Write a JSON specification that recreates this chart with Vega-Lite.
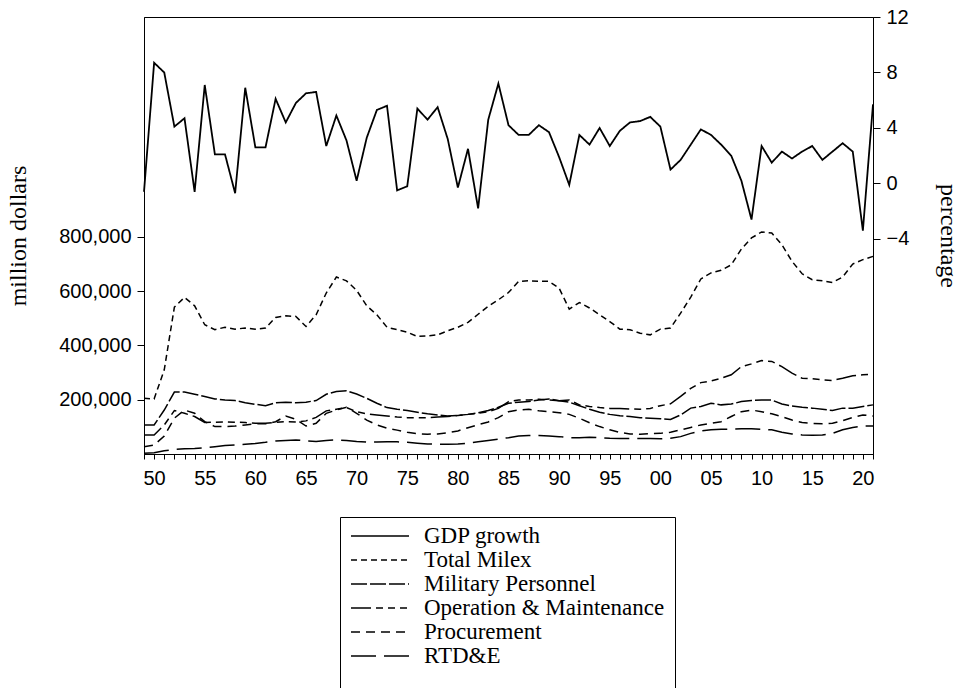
{
"$schema": "https://vega.github.io/schema/vega-lite/v6.json",
"width": 729, "height": 437,
"autosize": {"type": "none"},
"padding": {"left": 144, "top": 17, "right": 88, "bottom": 234},
"background": "white",
"config": {
  "view": {"stroke": "black", "strokeWidth": 1},
  "axis": {"domainColor": "black", "tickColor": "black", "labelColor": "black", "titleColor": "black", "labelFont": "Liberation Sans", "labelFontSize": 20, "titleFont": "Liberation Serif", "titleFontSize": 24, "titleFontWeight": "normal", "grid": false, "domainWidth": 1, "tickWidth": 1},
  "legend": {"labelFont": "Liberation Serif", "labelFontSize": 23, "labelColor": "black", "symbolType": "stroke", "symbolSize": 3364, "symbolStrokeWidth": 1.5, "symbolStrokeColor": "black", "labelOffset": 14, "padding": 10, "strokeColor": "black", "fillColor": "white", "rowPadding": 0, "clipHeight": 18.2, "labelLimit": 400}
},
"data": {"values": [
{"year":1949,"series":"GDP growth","value":-0.6},{"year":1950,"series":"GDP growth","value":8.7},{"year":1951,"series":"GDP growth","value":8.0},{"year":1952,"series":"GDP growth","value":4.1},{"year":1953,"series":"GDP growth","value":4.7},{"year":1954,"series":"GDP growth","value":-0.6},{"year":1955,"series":"GDP growth","value":7.1},{"year":1956,"series":"GDP growth","value":2.1},{"year":1957,"series":"GDP growth","value":2.1},{"year":1958,"series":"GDP growth","value":-0.7},
{"year":1959,"series":"GDP growth","value":6.9},{"year":1960,"series":"GDP growth","value":2.6},{"year":1961,"series":"GDP growth","value":2.6},{"year":1962,"series":"GDP growth","value":6.1},{"year":1963,"series":"GDP growth","value":4.4},{"year":1964,"series":"GDP growth","value":5.8},{"year":1965,"series":"GDP growth","value":6.5},{"year":1966,"series":"GDP growth","value":6.6},{"year":1967,"series":"GDP growth","value":2.7},{"year":1968,"series":"GDP growth","value":4.9},
{"year":1969,"series":"GDP growth","value":3.1},{"year":1970,"series":"GDP growth","value":0.2},{"year":1971,"series":"GDP growth","value":3.3},{"year":1972,"series":"GDP growth","value":5.3},{"year":1973,"series":"GDP growth","value":5.6},{"year":1974,"series":"GDP growth","value":-0.5},{"year":1975,"series":"GDP growth","value":-0.2},{"year":1976,"series":"GDP growth","value":5.4},{"year":1977,"series":"GDP growth","value":4.6},{"year":1978,"series":"GDP growth","value":5.5},
{"year":1979,"series":"GDP growth","value":3.2},{"year":1980,"series":"GDP growth","value":-0.3},{"year":1981,"series":"GDP growth","value":2.5},{"year":1982,"series":"GDP growth","value":-1.8},{"year":1983,"series":"GDP growth","value":4.6},{"year":1984,"series":"GDP growth","value":7.2},{"year":1985,"series":"GDP growth","value":4.2},{"year":1986,"series":"GDP growth","value":3.5},{"year":1987,"series":"GDP growth","value":3.5},{"year":1988,"series":"GDP growth","value":4.2},
{"year":1989,"series":"GDP growth","value":3.7},{"year":1990,"series":"GDP growth","value":1.9},{"year":1991,"series":"GDP growth","value":-0.1},{"year":1992,"series":"GDP growth","value":3.5},{"year":1993,"series":"GDP growth","value":2.8},{"year":1994,"series":"GDP growth","value":4.0},{"year":1995,"series":"GDP growth","value":2.7},{"year":1996,"series":"GDP growth","value":3.8},{"year":1997,"series":"GDP growth","value":4.4},{"year":1998,"series":"GDP growth","value":4.5},
{"year":1999,"series":"GDP growth","value":4.8},{"year":2000,"series":"GDP growth","value":4.1},{"year":2001,"series":"GDP growth","value":1.0},{"year":2002,"series":"GDP growth","value":1.7},{"year":2003,"series":"GDP growth","value":2.8},{"year":2004,"series":"GDP growth","value":3.9},{"year":2005,"series":"GDP growth","value":3.5},{"year":2006,"series":"GDP growth","value":2.8},{"year":2007,"series":"GDP growth","value":2.0},{"year":2008,"series":"GDP growth","value":0.2},
{"year":2009,"series":"GDP growth","value":-2.6},{"year":2010,"series":"GDP growth","value":2.7},{"year":2011,"series":"GDP growth","value":1.5},{"year":2012,"series":"GDP growth","value":2.3},{"year":2013,"series":"GDP growth","value":1.8},{"year":2014,"series":"GDP growth","value":2.3},{"year":2015,"series":"GDP growth","value":2.7},{"year":2016,"series":"GDP growth","value":1.7},{"year":2017,"series":"GDP growth","value":2.3},{"year":2018,"series":"GDP growth","value":2.9},
{"year":2019,"series":"GDP growth","value":2.3},{"year":2020,"series":"GDP growth","value":-3.4},{"year":2021,"series":"GDP growth","value":5.7},

{"year":1949,"series":"Total Milex","value":205000},{"year":1950,"series":"Total Milex","value":203000},{"year":1951,"series":"Total Milex","value":310000},{"year":1952,"series":"Total Milex","value":541000},{"year":1953,"series":"Total Milex","value":577000},{"year":1954,"series":"Total Milex","value":546000},{"year":1955,"series":"Total Milex","value":476000},{"year":1956,"series":"Total Milex","value":458000},{"year":1957,"series":"Total Milex","value":467000},{"year":1958,"series":"Total Milex","value":460000},
{"year":1959,"series":"Total Milex","value":464000},{"year":1960,"series":"Total Milex","value":460000},{"year":1961,"series":"Total Milex","value":464000},{"year":1962,"series":"Total Milex","value":503000},{"year":1963,"series":"Total Milex","value":509000},{"year":1964,"series":"Total Milex","value":507000},{"year":1965,"series":"Total Milex","value":470000},{"year":1966,"series":"Total Milex","value":513000},{"year":1967,"series":"Total Milex","value":593000},{"year":1968,"series":"Total Milex","value":652000},
{"year":1969,"series":"Total Milex","value":638000},{"year":1970,"series":"Total Milex","value":603000},{"year":1971,"series":"Total Milex","value":546000},{"year":1972,"series":"Total Milex","value":513000},{"year":1973,"series":"Total Milex","value":467000},{"year":1974,"series":"Total Milex","value":458000},{"year":1975,"series":"Total Milex","value":449000},{"year":1976,"series":"Total Milex","value":433000},{"year":1977,"series":"Total Milex","value":435000},{"year":1978,"series":"Total Milex","value":439000},
{"year":1979,"series":"Total Milex","value":454000},{"year":1980,"series":"Total Milex","value":467000},{"year":1981,"series":"Total Milex","value":485000},{"year":1982,"series":"Total Milex","value":515000},{"year":1983,"series":"Total Milex","value":544000},{"year":1984,"series":"Total Milex","value":568000},{"year":1985,"series":"Total Milex","value":595000},{"year":1986,"series":"Total Milex","value":636000},{"year":1987,"series":"Total Milex","value":638000},{"year":1988,"series":"Total Milex","value":636000},
{"year":1989,"series":"Total Milex","value":636000},{"year":1990,"series":"Total Milex","value":611000},{"year":1991,"series":"Total Milex","value":534000},{"year":1992,"series":"Total Milex","value":558000},{"year":1993,"series":"Total Milex","value":538000},{"year":1994,"series":"Total Milex","value":513000},{"year":1995,"series":"Total Milex","value":488000},{"year":1996,"series":"Total Milex","value":460000},{"year":1997,"series":"Total Milex","value":458000},{"year":1998,"series":"Total Milex","value":445000},
{"year":1999,"series":"Total Milex","value":439000},{"year":2000,"series":"Total Milex","value":460000},{"year":2001,"series":"Total Milex","value":464000},{"year":2002,"series":"Total Milex","value":519000},{"year":2003,"series":"Total Milex","value":578000},{"year":2004,"series":"Total Milex","value":645000},{"year":2005,"series":"Total Milex","value":667000},{"year":2006,"series":"Total Milex","value":677000},{"year":2007,"series":"Total Milex","value":697000},{"year":2008,"series":"Total Milex","value":755000},
{"year":2009,"series":"Total Milex","value":796000},{"year":2010,"series":"Total Milex","value":818000},{"year":2011,"series":"Total Milex","value":814000},{"year":2012,"series":"Total Milex","value":771000},{"year":2013,"series":"Total Milex","value":710000},{"year":2014,"series":"Total Milex","value":664000},{"year":2015,"series":"Total Milex","value":642000},{"year":2016,"series":"Total Milex","value":638000},{"year":2017,"series":"Total Milex","value":632000},{"year":2018,"series":"Total Milex","value":652000},
{"year":2019,"series":"Total Milex","value":700000},{"year":2020,"series":"Total Milex","value":716000},{"year":2021,"series":"Total Milex","value":728000},

{"year":1949,"series":"Military Personnel","value":107000},{"year":1950,"series":"Military Personnel","value":107000},{"year":1951,"series":"Military Personnel","value":162000},{"year":1952,"series":"Military Personnel","value":228000},{"year":1953,"series":"Military Personnel","value":228000},{"year":1954,"series":"Military Personnel","value":220000},{"year":1955,"series":"Military Personnel","value":212000},{"year":1956,"series":"Military Personnel","value":203000},{"year":1957,"series":"Military Personnel","value":199000},{"year":1958,"series":"Military Personnel","value":197000},
{"year":1959,"series":"Military Personnel","value":189000},{"year":1960,"series":"Military Personnel","value":183000},{"year":1961,"series":"Military Personnel","value":178000},{"year":1962,"series":"Military Personnel","value":189000},{"year":1963,"series":"Military Personnel","value":191000},{"year":1964,"series":"Military Personnel","value":189000},{"year":1965,"series":"Military Personnel","value":191000},{"year":1966,"series":"Military Personnel","value":197000},{"year":1967,"series":"Military Personnel","value":220000},{"year":1968,"series":"Military Personnel","value":230000},
{"year":1969,"series":"Military Personnel","value":233000},{"year":1970,"series":"Military Personnel","value":221000},{"year":1971,"series":"Military Personnel","value":205000},{"year":1972,"series":"Military Personnel","value":187000},{"year":1973,"series":"Military Personnel","value":171000},{"year":1974,"series":"Military Personnel","value":165000},{"year":1975,"series":"Military Personnel","value":160000},{"year":1976,"series":"Military Personnel","value":154000},{"year":1977,"series":"Military Personnel","value":148000},{"year":1978,"series":"Military Personnel","value":144000},
{"year":1979,"series":"Military Personnel","value":140000},{"year":1980,"series":"Military Personnel","value":142000},{"year":1981,"series":"Military Personnel","value":146000},{"year":1982,"series":"Military Personnel","value":152000},{"year":1983,"series":"Military Personnel","value":160000},{"year":1984,"series":"Military Personnel","value":172000},{"year":1985,"series":"Military Personnel","value":187000},{"year":1986,"series":"Military Personnel","value":191000},{"year":1987,"series":"Military Personnel","value":193000},{"year":1988,"series":"Military Personnel","value":199000},
{"year":1989,"series":"Military Personnel","value":203000},{"year":1990,"series":"Military Personnel","value":196000},{"year":1991,"series":"Military Personnel","value":191000},{"year":1992,"series":"Military Personnel","value":178000},{"year":1993,"series":"Military Personnel","value":165000},{"year":1994,"series":"Military Personnel","value":154000},{"year":1995,"series":"Military Personnel","value":146000},{"year":1996,"series":"Military Personnel","value":141000},{"year":1997,"series":"Military Personnel","value":138000},{"year":1998,"series":"Military Personnel","value":134000},
{"year":1999,"series":"Military Personnel","value":132000},{"year":2000,"series":"Military Personnel","value":130000},{"year":2001,"series":"Military Personnel","value":127000},{"year":2002,"series":"Military Personnel","value":144000},{"year":2003,"series":"Military Personnel","value":169000},{"year":2004,"series":"Military Personnel","value":175000},{"year":2005,"series":"Military Personnel","value":187000},{"year":2006,"series":"Military Personnel","value":181000},{"year":2007,"series":"Military Personnel","value":184000},{"year":2008,"series":"Military Personnel","value":193000},
{"year":2009,"series":"Military Personnel","value":197000},{"year":2010,"series":"Military Personnel","value":199000},{"year":2011,"series":"Military Personnel","value":199000},{"year":2012,"series":"Military Personnel","value":184000},{"year":2013,"series":"Military Personnel","value":177000},{"year":2014,"series":"Military Personnel","value":172000},{"year":2015,"series":"Military Personnel","value":169000},{"year":2016,"series":"Military Personnel","value":165000},{"year":2017,"series":"Military Personnel","value":160000},{"year":2018,"series":"Military Personnel","value":169000},
{"year":2019,"series":"Military Personnel","value":169000},{"year":2020,"series":"Military Personnel","value":175000},{"year":2021,"series":"Military Personnel","value":181000},

{"year":1949,"series":"Operation & Maintenance","value":70000},{"year":1950,"series":"Operation & Maintenance","value":70000},{"year":1951,"series":"Operation & Maintenance","value":107000},{"year":1952,"series":"Operation & Maintenance","value":160000},{"year":1953,"series":"Operation & Maintenance","value":150000},{"year":1954,"series":"Operation & Maintenance","value":138000},{"year":1955,"series":"Operation & Maintenance","value":116000},{"year":1956,"series":"Operation & Maintenance","value":117000},{"year":1957,"series":"Operation & Maintenance","value":118000},{"year":1958,"series":"Operation & Maintenance","value":117000},
{"year":1959,"series":"Operation & Maintenance","value":116000},{"year":1960,"series":"Operation & Maintenance","value":113000},{"year":1961,"series":"Operation & Maintenance","value":113000},{"year":1962,"series":"Operation & Maintenance","value":117000},{"year":1963,"series":"Operation & Maintenance","value":119000},{"year":1964,"series":"Operation & Maintenance","value":118000},{"year":1965,"series":"Operation & Maintenance","value":122000},{"year":1966,"series":"Operation & Maintenance","value":135000},{"year":1967,"series":"Operation & Maintenance","value":159000},{"year":1968,"series":"Operation & Maintenance","value":165000},
{"year":1969,"series":"Operation & Maintenance","value":171000},{"year":1970,"series":"Operation & Maintenance","value":156000},{"year":1971,"series":"Operation & Maintenance","value":148000},{"year":1972,"series":"Operation & Maintenance","value":144000},{"year":1973,"series":"Operation & Maintenance","value":140000},{"year":1974,"series":"Operation & Maintenance","value":136000},{"year":1975,"series":"Operation & Maintenance","value":134000},{"year":1976,"series":"Operation & Maintenance","value":134000},{"year":1977,"series":"Operation & Maintenance","value":134000},{"year":1978,"series":"Operation & Maintenance","value":136000},
{"year":1979,"series":"Operation & Maintenance","value":138000},{"year":1980,"series":"Operation & Maintenance","value":142000},{"year":1981,"series":"Operation & Maintenance","value":146000},{"year":1982,"series":"Operation & Maintenance","value":150000},{"year":1983,"series":"Operation & Maintenance","value":156000},{"year":1984,"series":"Operation & Maintenance","value":168000},{"year":1985,"series":"Operation & Maintenance","value":193000},{"year":1986,"series":"Operation & Maintenance","value":199000},{"year":1987,"series":"Operation & Maintenance","value":199000},{"year":1988,"series":"Operation & Maintenance","value":202000},
{"year":1989,"series":"Operation & Maintenance","value":199000},{"year":1990,"series":"Operation & Maintenance","value":196000},{"year":1991,"series":"Operation & Maintenance","value":199000},{"year":1992,"series":"Operation & Maintenance","value":181000},{"year":1993,"series":"Operation & Maintenance","value":175000},{"year":1994,"series":"Operation & Maintenance","value":171000},{"year":1995,"series":"Operation & Maintenance","value":168000},{"year":1996,"series":"Operation & Maintenance","value":168000},{"year":1997,"series":"Operation & Maintenance","value":166000},{"year":1998,"series":"Operation & Maintenance","value":165000},
{"year":1999,"series":"Operation & Maintenance","value":168000},{"year":2000,"series":"Operation & Maintenance","value":178000},{"year":2001,"series":"Operation & Maintenance","value":185000},{"year":2002,"series":"Operation & Maintenance","value":212000},{"year":2003,"series":"Operation & Maintenance","value":242000},{"year":2004,"series":"Operation & Maintenance","value":263000},{"year":2005,"series":"Operation & Maintenance","value":269000},{"year":2006,"series":"Operation & Maintenance","value":279000},{"year":2007,"series":"Operation & Maintenance","value":292000},{"year":2008,"series":"Operation & Maintenance","value":322000},
{"year":2009,"series":"Operation & Maintenance","value":332000},{"year":2010,"series":"Operation & Maintenance","value":344000},{"year":2011,"series":"Operation & Maintenance","value":341000},{"year":2012,"series":"Operation & Maintenance","value":322000},{"year":2013,"series":"Operation & Maintenance","value":298000},{"year":2014,"series":"Operation & Maintenance","value":279000},{"year":2015,"series":"Operation & Maintenance","value":277000},{"year":2016,"series":"Operation & Maintenance","value":273000},{"year":2017,"series":"Operation & Maintenance","value":271000},{"year":2018,"series":"Operation & Maintenance","value":279000},
{"year":2019,"series":"Operation & Maintenance","value":288000},{"year":2020,"series":"Operation & Maintenance","value":292000},{"year":2021,"series":"Operation & Maintenance","value":294000},

{"year":1949,"series":"Procurement","value":27000},{"year":1950,"series":"Procurement","value":33000},{"year":1951,"series":"Procurement","value":66000},{"year":1952,"series":"Procurement","value":132000},{"year":1953,"series":"Procurement","value":162000},{"year":1954,"series":"Procurement","value":150000},{"year":1955,"series":"Procurement","value":119000},{"year":1956,"series":"Procurement","value":101000},{"year":1957,"series":"Procurement","value":101000},{"year":1958,"series":"Procurement","value":103000},
{"year":1959,"series":"Procurement","value":107000},{"year":1960,"series":"Procurement","value":111000},{"year":1961,"series":"Procurement","value":111000},{"year":1962,"series":"Procurement","value":119000},{"year":1963,"series":"Procurement","value":140000},{"year":1964,"series":"Procurement","value":128000},{"year":1965,"series":"Procurement","value":103000},{"year":1966,"series":"Procurement","value":113000},{"year":1967,"series":"Procurement","value":150000},{"year":1968,"series":"Procurement","value":162000},
{"year":1969,"series":"Procurement","value":172000},{"year":1970,"series":"Procurement","value":150000},{"year":1971,"series":"Procurement","value":125000},{"year":1972,"series":"Procurement","value":107000},{"year":1973,"series":"Procurement","value":95000},{"year":1974,"series":"Procurement","value":88000},{"year":1975,"series":"Procurement","value":80000},{"year":1976,"series":"Procurement","value":75000},{"year":1977,"series":"Procurement","value":73000},{"year":1978,"series":"Procurement","value":74000},
{"year":1979,"series":"Procurement","value":78000},{"year":1980,"series":"Procurement","value":85000},{"year":1981,"series":"Procurement","value":97000},{"year":1982,"series":"Procurement","value":108000},{"year":1983,"series":"Procurement","value":118000},{"year":1984,"series":"Procurement","value":134000},{"year":1985,"series":"Procurement","value":156000},{"year":1986,"series":"Procurement","value":162000},{"year":1987,"series":"Procurement","value":165000},{"year":1988,"series":"Procurement","value":159000},
{"year":1989,"series":"Procurement","value":156000},{"year":1990,"series":"Procurement","value":152000},{"year":1991,"series":"Procurement","value":146000},{"year":1992,"series":"Procurement","value":132000},{"year":1993,"series":"Procurement","value":115000},{"year":1994,"series":"Procurement","value":101000},{"year":1995,"series":"Procurement","value":89000},{"year":1996,"series":"Procurement","value":79000},{"year":1997,"series":"Procurement","value":74000},{"year":1998,"series":"Procurement","value":73000},
{"year":1999,"series":"Procurement","value":75000},{"year":2000,"series":"Procurement","value":76000},{"year":2001,"series":"Procurement","value":80000},{"year":2002,"series":"Procurement","value":89000},{"year":2003,"series":"Procurement","value":98000},{"year":2004,"series":"Procurement","value":107000},{"year":2005,"series":"Procurement","value":113000},{"year":2006,"series":"Procurement","value":119000},{"year":2007,"series":"Procurement","value":138000},{"year":2008,"series":"Procurement","value":156000},
{"year":2009,"series":"Procurement","value":162000},{"year":2010,"series":"Procurement","value":156000},{"year":2011,"series":"Procurement","value":148000},{"year":2012,"series":"Procurement","value":138000},{"year":2013,"series":"Procurement","value":125000},{"year":2014,"series":"Procurement","value":116000},{"year":2015,"series":"Procurement","value":113000},{"year":2016,"series":"Procurement","value":111000},{"year":2017,"series":"Procurement","value":113000},{"year":2018,"series":"Procurement","value":123000},
{"year":2019,"series":"Procurement","value":135000},{"year":2020,"series":"Procurement","value":144000},{"year":2021,"series":"Procurement","value":140000},

{"year":1949,"series":"RTD&E","value":3000},{"year":1950,"series":"RTD&E","value":5000},{"year":1951,"series":"RTD&E","value":12000},{"year":1952,"series":"RTD&E","value":17000},{"year":1953,"series":"RTD&E","value":19000},{"year":1954,"series":"RTD&E","value":20000},{"year":1955,"series":"RTD&E","value":23000},{"year":1956,"series":"RTD&E","value":27000},{"year":1957,"series":"RTD&E","value":31000},{"year":1958,"series":"RTD&E","value":33000},
{"year":1959,"series":"RTD&E","value":36000},{"year":1960,"series":"RTD&E","value":39000},{"year":1961,"series":"RTD&E","value":43000},{"year":1962,"series":"RTD&E","value":48000},{"year":1963,"series":"RTD&E","value":50000},{"year":1964,"series":"RTD&E","value":52000},{"year":1965,"series":"RTD&E","value":48000},{"year":1966,"series":"RTD&E","value":46000},{"year":1967,"series":"RTD&E","value":50000},{"year":1968,"series":"RTD&E","value":52000},
{"year":1969,"series":"RTD&E","value":50000},{"year":1970,"series":"RTD&E","value":46000},{"year":1971,"series":"RTD&E","value":44000},{"year":1972,"series":"RTD&E","value":44000},{"year":1973,"series":"RTD&E","value":45000},{"year":1974,"series":"RTD&E","value":45000},{"year":1975,"series":"RTD&E","value":43000},{"year":1976,"series":"RTD&E","value":40000},{"year":1977,"series":"RTD&E","value":37000},{"year":1978,"series":"RTD&E","value":36000},
{"year":1979,"series":"RTD&E","value":36000},{"year":1980,"series":"RTD&E","value":37000},{"year":1981,"series":"RTD&E","value":40000},{"year":1982,"series":"RTD&E","value":45000},{"year":1983,"series":"RTD&E","value":50000},{"year":1984,"series":"RTD&E","value":55000},{"year":1985,"series":"RTD&E","value":60000},{"year":1986,"series":"RTD&E","value":66000},{"year":1987,"series":"RTD&E","value":68000},{"year":1988,"series":"RTD&E","value":68000},
{"year":1989,"series":"RTD&E","value":66000},{"year":1990,"series":"RTD&E","value":64000},{"year":1991,"series":"RTD&E","value":60000},{"year":1992,"series":"RTD&E","value":60000},{"year":1993,"series":"RTD&E","value":62000},{"year":1994,"series":"RTD&E","value":60000},{"year":1995,"series":"RTD&E","value":58000},{"year":1996,"series":"RTD&E","value":57000},{"year":1997,"series":"RTD&E","value":57000},{"year":1998,"series":"RTD&E","value":57000},
{"year":1999,"series":"RTD&E","value":57000},{"year":2000,"series":"RTD&E","value":56000},{"year":2001,"series":"RTD&E","value":58000},{"year":2002,"series":"RTD&E","value":64000},{"year":2003,"series":"RTD&E","value":76000},{"year":2004,"series":"RTD&E","value":85000},{"year":2005,"series":"RTD&E","value":89000},{"year":2006,"series":"RTD&E","value":91000},{"year":2007,"series":"RTD&E","value":92000},{"year":2008,"series":"RTD&E","value":93000},
{"year":2009,"series":"RTD&E","value":93000},{"year":2010,"series":"RTD&E","value":91000},{"year":2011,"series":"RTD&E","value":89000},{"year":2012,"series":"RTD&E","value":80000},{"year":2013,"series":"RTD&E","value":74000},{"year":2014,"series":"RTD&E","value":70000},{"year":2015,"series":"RTD&E","value":69000},{"year":2016,"series":"RTD&E","value":70000},{"year":2017,"series":"RTD&E","value":76000},{"year":2018,"series":"RTD&E","value":89000},
{"year":2019,"series":"RTD&E","value":98000},{"year":2020,"series":"RTD&E","value":103000},{"year":2021,"series":"RTD&E","value":103000}
]},
"encoding": {
  "x": {"field": "year", "type": "quantitative",
    "scale": {"domain": [1949, 2021], "nice": false, "zero": false},
    "axis": {"title": null, "values": [1949,1950,1951,1952,1953,1954,1955,1956,1957,1958,1959,1960,1961,1962,1963,1964,1965,1966,1967,1968,1969,1970,1971,1972,1973,1974,1975,1976,1977,1978,1979,1980,1981,1982,1983,1984,1985,1986,1987,1988,1989,1990,1991,1992,1993,1994,1995,1996,1997,1998,1999,2000,2001,2002,2003,2004,2005,2006,2007,2008,2009,2010,2011,2012,2013,2014,2015,2016,2017,2018,2019,2020,2021],
      "labelExpr": "datum.value % 5 === 0 ? slice('0' + (datum.value % 100), -2) : ''",
      "tickSize": 5, "labelPadding": 9, "labelFlush": false, "labelOverlap": false, "labelBound": false}
  },
  "strokeDash": {"field": "series", "type": "nominal",
    "scale": {"domain": ["GDP growth", "Total Milex", "Military Personnel", "Operation & Maintenance", "Procurement", "RTD&E"],
      "range": [[1, 0], [6, 4], [16, 3], [20, 5, 7, 5, 7, 5, 7, 5], [9, 6], [25, 8]]},
    "legend": {"title": " ", "titleOrient": "bottom", "titleFontSize": 20, "titlePadding": 30, "orient": "none", "legendX": 196, "legendY": 500}}
},
"layer": [
  {"transform": [{"filter": "datum.series === 'GDP growth'"}],
   "mark": {"type": "line", "color": "black", "strokeWidth": 1.8},
   "encoding": {"y": {"field": "value", "type": "quantitative",
     "scale": {"domain": [-19.5, 12], "nice": false, "zero": false},
     "axis": {"orient": "right", "values": [-4, 0, 4, 8, 12], "title": "percentage", "titleAngle": 90, "titleX": 74, "titleY": 218.5, "titleAlign": "center", "titleBaseline": "middle", "tickSize": 7, "labelPadding": 6}}}},
  {"transform": [{"filter": "datum.series !== 'GDP growth'"}],
   "mark": {"type": "line", "color": "black", "strokeWidth": 1.5},
   "encoding": {"y": {"field": "value", "type": "quantitative",
     "scale": {"domain": [0, 1610000], "nice": false, "zero": false},
     "axis": {"orient": "left", "values": [200000, 400000, 600000, 800000], "format": ",.0f", "title": "million dollars", "titleAngle": 270, "titleX": -126, "titleY": 218.5, "titleAlign": "center", "titleBaseline": "middle", "tickSize": 7, "labelPadding": 6}}}}
],
"resolve": {"scale": {"y": "independent"}}
}
